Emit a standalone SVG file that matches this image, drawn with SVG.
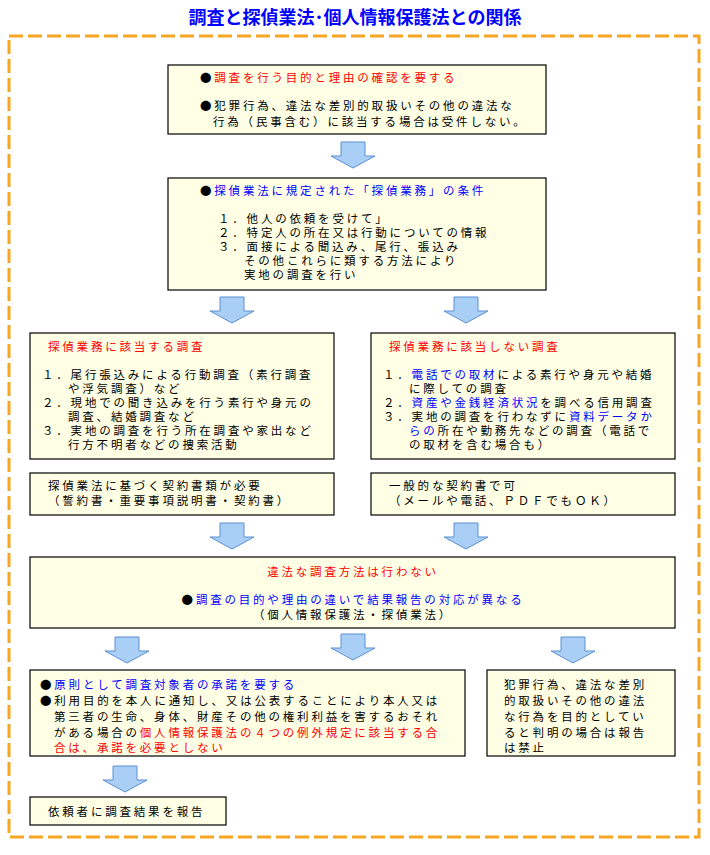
<svg xmlns="http://www.w3.org/2000/svg" width="710" height="855" viewBox="0 0 710 855">
<defs>
<style>
text{font-family:"Noto Sans CJK JP",sans-serif;font-size:11.5px;letter-spacing:2.8px;fill:#000}
.box{fill:#ffffe5;stroke:#000;stroke-width:1.2}
.arr{fill:#a9cff7;stroke:#5b8fd0;stroke-width:1}
.r{fill:#ff0000}.b{fill:#0000ff}
</style>
<path id="ar" class="arr" d="M-12,0 H12 V14 H22 L0,26 L-22,14 H-12 Z"/>
</defs>
<rect width="710" height="855" fill="#fff"/>
<text x="355" y="24" text-anchor="middle" class="b" style="font-size:18px;font-weight:bold;letter-spacing:0">調査と探偵業法･個人情報保護法との関係</text>
<rect x="9" y="36" width="690" height="801" fill="none" stroke="#f5a623" stroke-width="3" stroke-dasharray="14 5"/>
<g id="connectors">
<use href="#ar" x="353" y="142"/>
<use href="#ar" x="232" y="297"/>
<use href="#ar" x="466" y="297"/>
<use href="#ar" x="232" y="523"/>
<use href="#ar" x="466" y="523"/>
<use href="#ar" x="127" y="637"/>
<use href="#ar" x="353" y="634"/>
<use href="#ar" x="573" y="637"/>
<use href="#ar" x="125" y="766"/>
</g>
<g id="n1"><rect class="box" x="168" y="65" width="378" height="69"/>
<text x="200" y="82">●<tspan class="r">調査を行う目的と理由の確認を要する</tspan></text>
<text x="200" y="110">●犯罪行為、違法な差別的取扱いその他の違法な</text>
<text x="213" y="126">行為（民事含む）に該当する場合は受件しない。</text></g>
<g id="n2"><rect class="box" x="168" y="178" width="378" height="112"/>
<text x="200" y="195">●<tspan class="b">探偵業法に規定された「探偵業務」の条件</tspan></text>
<text x="218" y="223">１．他人の依頼を受けて」</text>
<text x="218" y="237">２．特定人の所在又は行動についての情報</text>
<text x="218" y="251">３．面接による聞込み、尾行、張込み</text>
<text x="244" y="265">その他これらに類する方法により</text>
<text x="244" y="279">実地の調査を行い</text></g>
<g id="n3"><rect class="box" x="30" y="333" width="304" height="126"/>
<text x="48" y="351" class="r">探偵業務に該当する調査</text>
<text x="42" y="379">１．尾行張込みによる行動調査（素行調査</text>
<text x="68" y="393">や浮気調査）など</text>
<text x="42" y="407">２．現地での聞き込みを行う素行や身元の</text>
<text x="68" y="421">調査、結婚調査など</text>
<text x="42" y="435">３．実地の調査を行う所在調査や家出など</text>
<text x="68" y="449">行方不明者などの捜索活動</text></g>
<g id="n4"><rect class="box" x="371" y="333" width="304" height="126"/>
<text x="389" y="351" class="r">探偵業務に該当しない調査</text>
<text x="383" y="379">１．<tspan class="b">電話での取材</tspan>による素行や身元や結婚</text>
<text x="409" y="393">に際しての調査</text>
<text x="383" y="407">２．<tspan class="b">資産や金銭経済状況</tspan>を調べる信用調査</text>
<text x="383" y="421">３．実地の調査を行わなずに<tspan class="b">資料データか</tspan></text>
<text x="409" y="435"><tspan class="b">らの</tspan>所在や勤務先などの調査（電話で</text>
<text x="409" y="449">の取材を含む場合も）</text></g>
<g id="n5"><rect class="box" x="30" y="473" width="304" height="42"/>
<text x="48" y="490">探偵業法に基づく契約書類が必要</text>
<text x="48" y="505">（誓約書・重要事項説明書・契約書）</text></g>
<g id="n6"><rect class="box" x="371" y="473" width="304" height="42"/>
<text x="389" y="490">一般的な契約書で可</text>
<text x="389" y="505">（メールや電話、ＰＤＦでもＯＫ）</text></g>
<g id="n7"><rect class="box" x="30" y="557" width="645" height="71"/>
<text x="353" y="576" text-anchor="middle" class="r">違法な調査方法は行わない</text>
<text x="353" y="604" text-anchor="middle">●<tspan class="b">調査の目的や理由の違いで結果報告の対応が異なる</tspan></text>
<text x="353" y="619" text-anchor="middle">（個人情報保護法・探偵業法）</text></g>
<g id="n8"><rect class="box" x="30" y="670" width="435" height="86"/>
<text x="40" y="689">●<tspan class="b">原則として調査対象者の承諾を要する</tspan></text>
<text x="40" y="705">●利用目的を本人に通知し、又は公表することにより本人又は</text>
<text x="54" y="721">第三者の生命、身体、財産その他の権利利益を害するおそれ</text>
<text x="54" y="737">がある場合の<tspan class="r">個人情報保護法の４つの例外規定に該当する合</tspan></text>
<text x="54" y="752" class="r">合は、承諾を必要としない</text></g>
<g id="n9"><rect class="box" x="487" y="670" width="188" height="86"/>
<text x="504" y="689">犯罪行為、違法な差別</text>
<text x="504" y="705">的取扱いその他の違法</text>
<text x="504" y="721">な行為を目的としてい</text>
<text x="504" y="737">ると判明の場合は報告</text>
<text x="504" y="752">は禁止</text></g>
<g id="n10"><rect class="box" x="30" y="797" width="196" height="28"/>
<text x="48" y="816">依頼者に調査結果を報告</text></g>
</svg>
